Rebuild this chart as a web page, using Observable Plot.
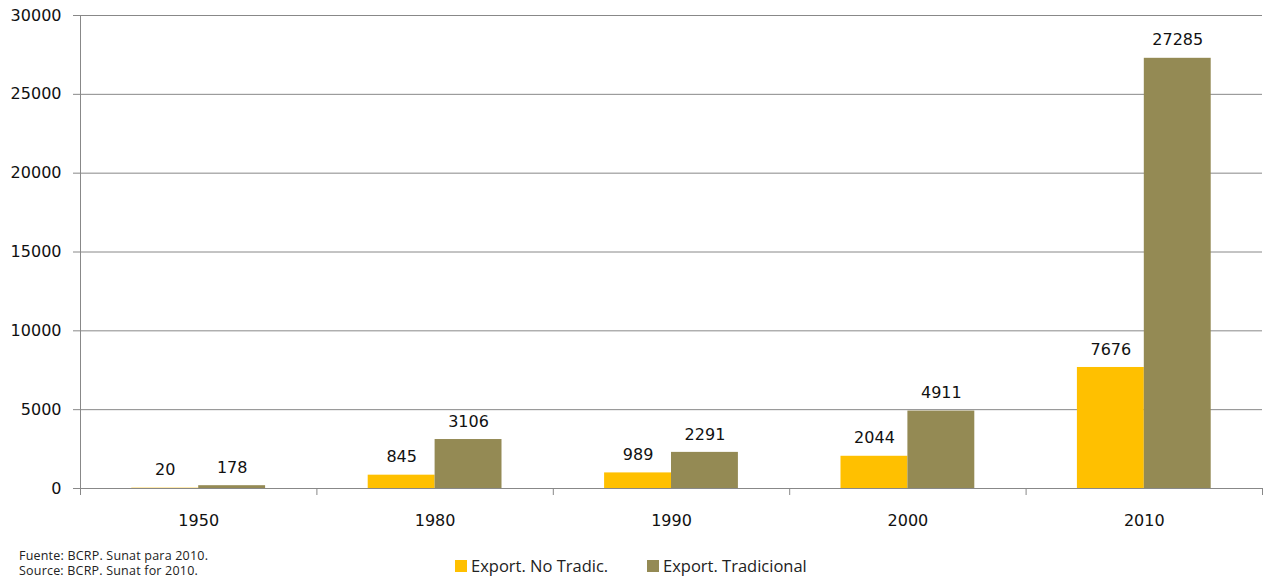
<!DOCTYPE html>
<html>
<head>
<meta charset="utf-8">
<script src="https://cdn.jsdelivr.net/npm/d3@7"></script>
<script src="https://cdn.jsdelivr.net/npm/@observablehq/plot@0.6"></script>
<style>
  html, body { margin: 0; padding: 0; background: #fff; overflow: hidden; }
  #wrap { position: relative; width: 1265px; height: 579px; }
  #chart svg { display: block; font-family: "DejaVu Sans", sans-serif; font-size: 16px; }
  #below { position: relative; width: 1265px; height: 34px; }
  .cap { position: absolute; left: 19px; font-family: "Open Sans", sans-serif; font-size: 12.5px; color: #222; line-height: 14px; white-space: nowrap; letter-spacing: 0.2px; }
  .leg { position: absolute; top: 12px; font-family: "Open Sans", sans-serif; font-size: 16.5px; color: #222; display: flex; align-items: center; white-space: nowrap; line-height: 18px; }
  .sw { width: 12px; height: 12px; margin-right: 4px; }
</style>
</head>
<body>
<div id="wrap">
  <div id="chart"></div>
  <div id="below"></div>
</div>
<script>
const years = ["1950", "1980", "1990", "2000", "2010"];
const noTradic = [20, 845, 989, 2044, 7676];
const tradicional = [178, 3106, 2291, 4911, 27285];
const seriesNames = ["Export. No Tradic.", "Export. Tradicional"];
const seriesColors = ["#FFC000", "#948A54"];
const yTicks = [0, 5000, 10000, 15000, 20000, 25000, 30000];
const captionLines = ["Fuente: BCRP. Sunat para 2010.", "Source: BCRP. Sunat for 2010."];

const rows = [];
years.forEach((yr, i) => {
  rows.push({ i, year: yr, k: 0, series: seriesNames[0], value: noTradic[i] });
  rows.push({ i, year: yr, k: 1, series: seriesNames[1], value: tradicional[i] });
});

const w = 0.283; // bar width as fraction of category band
const idx = years.map((_, i) => i);
const bounds = years.map((_, i) => i - 0.5).concat([years.length - 0.5]);

const chart = Plot.plot({
  width: 1265,
  height: 545,
  marginLeft: 80,
  marginRight: 3,
  marginTop: 15,
  marginBottom: 57,
  style: { fontFamily: "DejaVu Sans, sans-serif", fontSize: "16px", color: "#111", background: "#fff" },
  x: { type: "linear", domain: [-0.5, years.length - 0.5] },
  y: { domain: [0, 30000] },
  color: { domain: seriesNames, range: seriesColors },
  marks: [
    Plot.gridY(yTicks, { stroke: "#888", strokeOpacity: 1 }),
    Plot.axisY({ ticks: yTicks, tickSize: 7, tickPadding: 12, tickFormat: d => String(d), label: null, stroke: "#888", fontSize: 16 }),
    Plot.rectY(rows, {
      x1: d => d.i + (d.k - 1) * w,
      x2: d => d.i + d.k * w,
      y1: 0,
      y2: "value",
      fill: "series"
    }),
    Plot.ruleY([0], { stroke: "#888" }),
    Plot.ruleX([-0.5], { y1: 0, y2: 30000, stroke: "#888" }),
    Plot.axisX({ ticks: bounds, tickSize: 7, tickFormat: () => "", stroke: "#888", label: null }),
    Plot.axisX({ ticks: idx, tickSize: 0, tickPadding: 26, tickFormat: i => years[i], label: null, fontSize: 16 }),
    Plot.text(rows, {
      x: d => d.i + (d.k - 0.5) * w,
      y: "value",
      text: d => String(d.value),
      dy: -18,
      fontSize: 16,
      fill: "#111"
    })
  ]
});
document.getElementById("chart").appendChild(chart);

const below = document.getElementById("below");
captionLines.forEach((t, j) => {
  const c = document.createElement("div");
  c.className = "cap";
  c.style.top = (4 + j * 15) + "px";
  c.textContent = t;
  below.appendChild(c);
});
const legLeft = [455, 647];
seriesNames.forEach((s, j) => {
  const item = document.createElement("div");
  item.className = "leg";
  item.style.left = legLeft[j] + "px";
  const sw = document.createElement("div");
  sw.className = "sw";
  sw.style.background = seriesColors[j];
  const tx = document.createElement("span");
  tx.textContent = s;
  item.appendChild(sw);
  item.appendChild(tx);
  below.appendChild(item);
});
</script>
</body>
</html>
